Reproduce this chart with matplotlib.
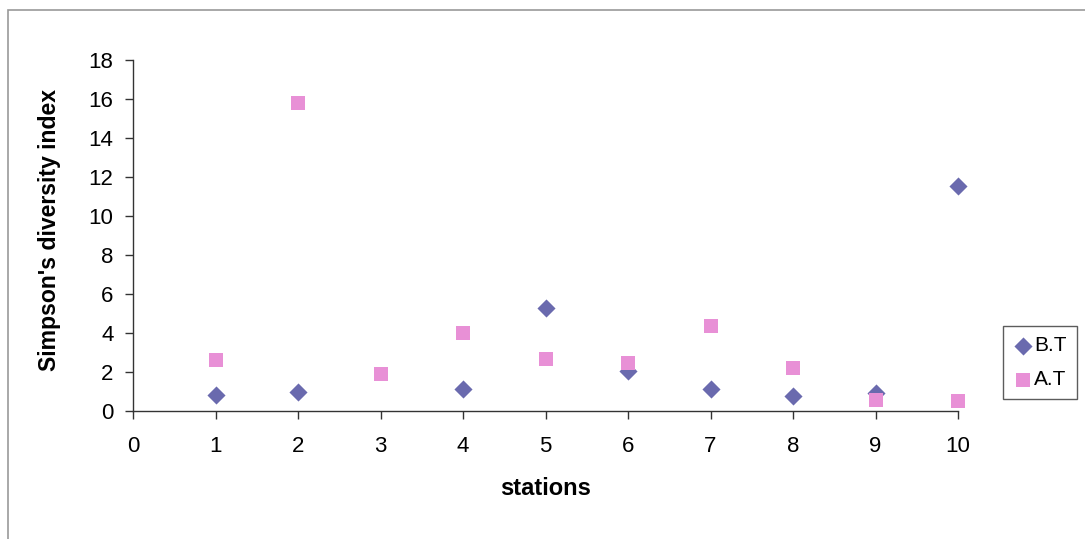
import matplotlib
matplotlib.use("Agg")
import matplotlib.pyplot as plt
from matplotlib.patches import Rectangle

stations = [1, 2, 3, 4, 5, 6, 7, 8, 9, 10]
bt_stations = [1, 2, 4, 5, 6, 7, 8, 9, 10]
bt_values = [0.81, 0.99, 1.13, 5.29, 2.05, 1.13, 0.79, 0.9, 11.53]
at_values = [2.62, 15.78, 1.88, 3.99, 2.67, 2.45, 4.37, 2.19, 0.57, 0.53]
x_ticks = list(range(0, 11))
y_ticks = list(range(0, 19, 2))

plt.rcParams['font.family'] = ['Liberation Sans', 'DejaVu Sans']

W, H = 1085, 539
fig = plt.figure(figsize=(W / 100, H / 100), dpi=100)
ax = fig.add_axes([133 / W, (H - 411) / H, (958 - 133) / W, (411 - 60) / H])

ax.scatter(bt_stations, bt_values, marker='D', s=85, color='#6a6aae', label='B.T',
           zorder=3, linewidths=0, clip_on=False)
ax.scatter(stations, at_values, marker='s', s=95, color='#e890d6', label='A.T',
           zorder=3, linewidths=0, clip_on=False)

ax.set_xlim(0, 10)
ax.set_ylim(0, 18)
ax.set_xticks(x_ticks)
ax.set_yticks(y_ticks)
ax.tick_params(axis='both', labelsize=16, direction='out', length=6, width=1, color='#333333')
ax.tick_params(axis='x', pad=12)
ax.tick_params(axis='y', pad=8)
for s in ['top', 'right']:
    ax.spines[s].set_visible(False)
for s in ['left', 'bottom']:
    ax.spines[s].set_color('#333333')
    ax.spines[s].set_linewidth(1)

ax.set_xlabel('stations', fontsize=17, fontweight='bold')
ax.xaxis.set_label_coords((546 - 133) / 825, -(477 - 411) / 351)
ax.set_ylabel("Simpson's diversity index", fontsize=16.6, fontweight='bold')
ax.yaxis.set_label_coords(-(133 - 61) / 825, (411 - 230) / 351)

leg = ax.legend(loc='upper left', bbox_to_anchor=(1003 / W, (H - 326) / H),
                bbox_transform=fig.transFigure, fontsize=15, frameon=True,
                fancybox=False, edgecolor='#333333', handletextpad=0.1,
                handlelength=0.9, borderpad=0.5, labelspacing=0.7, borderaxespad=0)
leg.get_frame().set_linewidth(1)

fig.patches.append(Rectangle((7.5 / W, -10 / H), 1100 / W, (H - 10 + 10) / H,
                             transform=fig.transFigure, fill=False,
                             edgecolor='#999999', linewidth=1.2, clip_on=False))

fig.savefig('out.png', dpi=100)
